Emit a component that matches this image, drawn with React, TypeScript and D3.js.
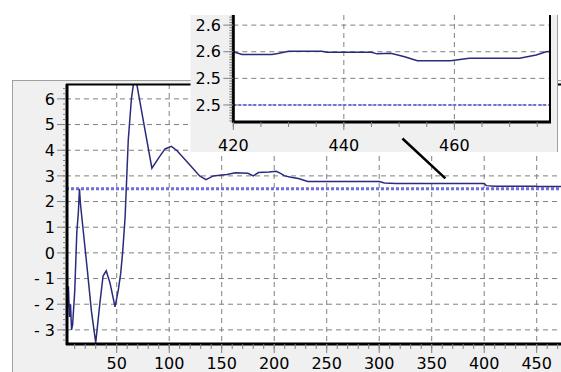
import * as d3 from "d3";

// series
const steps = [
  2, 3, 4, 5, 6, 7, 8, 10, 12, 13.5, 14.5, 15.5, 17, 22, 26, 30, 34, 37, 40, 43.6,
  48.4, 51.5, 53.8, 55.7, 58, 61, 64, 66, 69, 76, 83.5, 90, 96, 102, 107, 118, 129,
  135, 142, 155, 163, 175, 180, 185, 195, 202, 206, 210, 216, 223, 232, 300, 305,
  316, 400, 402, 410, 420, 421.6, 427, 428.3, 430, 436, 437, 445, 446, 448.5, 451,
  453.3, 459.3, 462.7, 471.8, 474.8, 476.6, 478,
];
const values = [
  -1.0, -2.2, -1.3, -2.5, -2.0, -3.0, -2.8, -1.5, 0.8, 1.6, 2.5, 1.9, 1.3, -0.66,
  -2.3, -3.5, -1.95, -0.9, -0.7, -1.17, -2.1, -1.45, -0.8, 0.05, 1.4, 4.4, 6.0, 6.6,
  6.6, 5.0, 3.3, 3.7, 4.05, 4.15, 4.0, 3.5, 3.0, 2.85, 3.0, 3.05, 3.12, 3.1, 3.0,
  3.13, 3.15, 3.18, 3.1, 3.0, 2.95, 2.9, 2.78, 2.78, 2.72, 2.7, 2.7, 2.62, 2.6, 2.6,
  2.595, 2.595, 2.597, 2.601, 2.601, 2.599, 2.599, 2.596, 2.597, 2.5906, 2.583,
  2.583, 2.5876, 2.5876, 2.594, 2.6, 2.601,
];
const target = 2.5;

const mainXTicks = [50, 100, 150, 200, 250, 300, 350, 400, 450];
const mainYTicks = [-3, -2, -1, 0, 1, 2, 3, 4, 5, 6];
const zoomXTicks = [420, 440, 460];
const zoomYTicks = [2.5, 2.55, 2.6, 2.65];

const W = 561;
const H = 372;
const FONT = "DejaVu Sans";
const LINE = "#2b2b7d";
const REF = "#6d6de0";
const GRID = "#808080";

type Pt = [number, number];
const data: Pt[] = steps.map((s, i) => [s, values[i]]);

export default function App() {
  // main chart
  const mx = d3.scaleLinear().domain([1.7, 480]).range([66, 568.2]);
  const my = d3.scaleLinear().domain([-3.55, 6.58]).range([344, 84]);
  // zoomed inset
  const zx = d3.scaleLinear().domain([420, 477.3]).range([233.3, 550]);
  const zy = d3.scaleLinear().domain([2.468, 2.669]).range([122, 15]);

  const mainLine = d3.line<Pt>().x((d) => mx(d[0])).y((d) => my(d[1]));
  const zoomLine = d3.line<Pt>().x((d) => zx(d[0])).y((d) => zy(d[1]));

  const [mL, mR] = mx.range();
  const [mB, mT] = my.range();
  const [zL, zR] = zx.range();
  const [zB, zT] = zy.range();

  const mainMinorX = d3.range(10, 480, 10);
  const mainMinorY = d3.range(-3.4, 6.5, 0.2);
  const zoomMinorX = d3.range(420, 478, 5);
  const zoomMinorY = d3.range(2.47, 2.668, 0.005);

  const fmtY = (v: number) => (v < 0 ? `- ${Math.abs(v)}` : `${v}`);

  return (
    <svg
      width={W}
      height={H}
      style={{ position: "absolute", left: 0, top: 0, background: "#fff" }}
      fontFamily={FONT}
    >
      <defs>
        <clipPath id="mainClip">
          <rect x={mL} y={mT} width={mR - mL} height={mB - mT} />
        </clipPath>
        <clipPath id="zoomClip">
          <rect x={zL} y={zT} width={zR - zL} height={zB - zT} />
        </clipPath>
      </defs>

      {/* main panel */}
      <rect x={12.5} y={80.5} width={600} height={400} fill="#f0f0f0" stroke="#a0a0a0" />
      <rect x={mL} y={mT} width={mR - mL} height={mB - mT} fill="#fff" />
      {mainXTicks.map((t) => (
        <line key={"gx" + t} x1={mx(t)} x2={mx(t)} y1={mT} y2={mB} stroke={GRID} strokeDasharray="5,4" />
      ))}
      {mainYTicks.map((t) => (
        <line key={"gy" + t} x1={mL} x2={mR} y1={my(t)} y2={my(t)} stroke={GRID} strokeDasharray="5,4" />
      ))}
      <line x1={mL} x2={mR} y1={my(target)} y2={my(target)} stroke={REF} strokeWidth={3} strokeDasharray="3,2" />
      <path d={mainLine(data) || ""} fill="none" stroke={LINE} strokeWidth={1.5} clipPath="url(#mainClip)" />

      {/* main axes */}
      <line x1={mL} x2={mR} y1={mT + 0.5} y2={mT + 0.5} stroke="#000" strokeWidth={2} />
      <line x1={mL + 1} x2={mL + 1} y1={mT} y2={mB + 1} stroke="#000" strokeWidth={3} />
      <line x1={mL} x2={mR} y1={mB} y2={mB} stroke="#000" strokeWidth={3} />
      {mainMinorY.map((t) => (
        <line key={"my" + t} x1={mL - 3} x2={mL} y1={my(t)} y2={my(t)} stroke={GRID} />
      ))}
      {mainYTicks.map((t) => (
        <g key={"ly" + t}>
          <line x1={mL - 9} x2={mL} y1={my(t)} y2={my(t)} stroke={GRID} />
          <text x={55} y={my(t)} dy="0.36em" textAnchor="end" fontSize={16} fill="#000">
            {fmtY(t)}
          </text>
        </g>
      ))}
      {mainMinorX.map((t) => (
        <line key={"mx" + t} x1={mx(t)} x2={mx(t)} y1={mB} y2={mB + 5} stroke={GRID} />
      ))}
      {mainXTicks.map((t) => (
        <g key={"lx" + t}>
          <line x1={mx(t)} x2={mx(t)} y1={mB} y2={mB + 9} stroke={GRID} />
          <text x={mx(t)} y={363.5} dy="0.36em" textAnchor="middle" fontSize={16} fill="#000">
            {t}
          </text>
        </g>
      ))}

      {/* zoom inset */}
      <rect x={190.5} y={15} width={367} height={137} fill="#f0f0f0" />
      <line x1={557.5} x2={557.5} y1={15} y2={152} stroke="#a0a0a0" />
      <rect x={zL} y={zT} width={zR - zL} height={zB - zT} fill="#fff" />
      {zoomXTicks.map((t) => (
        <line key={"zgx" + t} x1={zx(t)} x2={zx(t)} y1={zT} y2={zB} stroke={GRID} strokeDasharray="5,4" />
      ))}
      {zoomYTicks.map((t) => (
        <line key={"zgy" + t} x1={zL} x2={zR} y1={zy(t)} y2={zy(t)} stroke={GRID} strokeDasharray="5,4" />
      ))}
      <line x1={zL} x2={zR} y1={zy(target)} y2={zy(target)} stroke={REF} strokeWidth={2} strokeDasharray="3,2" />
      <path d={zoomLine(data) || ""} fill="none" stroke={LINE} strokeWidth={1.5} clipPath="url(#zoomClip)" />
      <line x1={zL} x2={zL} y1={zT} y2={zB + 1} stroke="#000" strokeWidth={3} />
      <line x1={zL} x2={zR + 1} y1={zB} y2={zB} stroke="#000" strokeWidth={3} />
      <line x1={zR} x2={zR} y1={zT} y2={zB} stroke="#000" strokeWidth={2} />
      {zoomMinorY.map((t) => (
        <line key={"zmy" + t} x1={zL - 4} x2={zL - 1} y1={zy(t)} y2={zy(t)} stroke={GRID} />
      ))}
      {zoomYTicks.map((t) => (
        <g key={"zly" + t}>
          <line x1={zL - 10} x2={zL} y1={zy(t)} y2={zy(t)} stroke={GRID} />
          <text x={221} y={zy(t)} dy="0.36em" textAnchor="end" fontSize={16} fill="#000">
            {t.toFixed(1)}
          </text>
        </g>
      ))}
      {zoomMinorX.map((t) => (
        <line key={"zmx" + t} x1={zx(t)} x2={zx(t)} y1={zB} y2={zB + 5} stroke={GRID} />
      ))}
      {zoomXTicks.map((t) => (
        <g key={"zlx" + t}>
          <line x1={zx(t)} x2={zx(t)} y1={zB} y2={zB + 8} stroke={GRID} />
          <text x={zx(t)} y={145} dy="0.36em" textAnchor="middle" fontSize={16} fill="#000">
            {t}
          </text>
        </g>
      ))}

      {/* connector from inset to main line */}
      <line x1={zx(450.6)} y1={zB + 16.5} x2={mx(363)} y2={my(2.9)} stroke="#000" strokeWidth={2.5} />
    </svg>
  );
}
